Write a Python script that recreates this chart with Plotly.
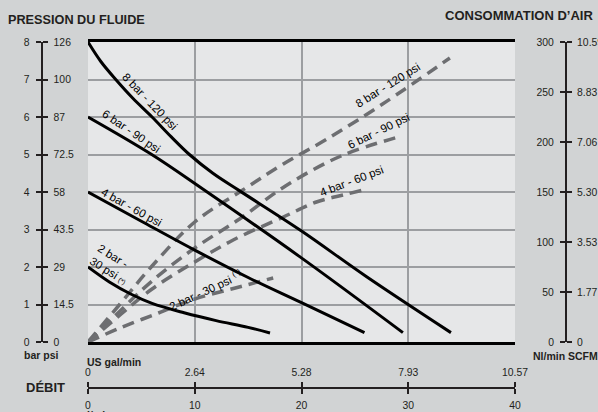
import plotly.graph_objects as go

# débit (l/min) / pression (bar) - courbes pleines
lpm_8 = [0, 1.2, 2.6, 4.2, 6.0, 7.8, 9.5, 11.7, 14.1, 19.9, 26.1, 34.0]
bar_8 = [8.0, 7.48, 7.0, 6.5, 6.0, 5.47, 5.0, 4.5, 4.05, 2.98, 1.74, 0.25]
lpm_6 = [0, 5.97, 10.65, 19.86, 29.5]
bar_6 = [6.0, 5.0, 4.1, 2.27, 0.25]
lpm_4 = [0, 5, 10, 15, 20, 25.9]
bar_4 = [4.0, 3.22, 2.45, 1.72, 1.05, 0.25]
lpm_2 = [0, 2, 4, 6, 9, 12, 15, 17.05]
bar_2 = [2.0, 1.6, 1.28, 1.03, 0.78, 0.57, 0.39, 0.24]

# consommation d'air (Nl/min) - courbes en tirets
air_lpm_8 = [0, 3, 6, 10, 14.5, 18.3, 22.4, 27.6, 33.9]
air_nl_8 = [0, 38, 76, 120, 152, 178, 203, 238, 284]
air_lpm_6 = [0, 3, 6, 10, 14.2, 18.5, 23.7, 29.4]
air_nl_6 = [0, 31, 61, 94, 123, 156, 186, 206]
air_lpm_4 = [0, 3, 6, 10, 13.6, 18.3, 21.4, 23.9, 25.8]
air_nl_4 = [0, 27, 53, 80, 102, 125, 140, 147, 152]
air_lpm_2 = [0, 3, 6.6, 10, 13.8, 17.35]
air_nl_2 = [0, 14, 29, 43, 54, 64]

# graduations
bar_ticks = [0, 1, 2, 3, 4, 5, 6, 7, 8]
psi_labels = ["0", "14.5", "29", "43.5", "58", "72.5", "87", "100", "126"]
nl_ticks = [0, 50, 100, 150, 200, 250, 300]
scfm_labels = ["0", "1.77", "3.53", "5.30", "7.06", "8.83", "10.59"]
lpm_ticks = [0, 10, 20, 30, 40]
gal_labels = ["0", "2.64", "5.28", "7.93", "10.57"]

FONT = "Liberation Sans, Arial, sans-serif"
INK = "#231f20"
DASH_COL = "#6d6e71"

fig = go.Figure()

# tirets (air) sur l'axe y (Nl/min)
for xs, ys in [(air_lpm_8, air_nl_8), (air_lpm_6, air_nl_6),
               (air_lpm_4, air_nl_4), (air_lpm_2, air_nl_2)]:
    fig.add_trace(go.Scatter(x=xs, y=ys, mode="lines", xaxis="x", yaxis="y",
                             line=dict(color=DASH_COL, width=3.5, dash="12px,7px", shape="spline"),
                             showlegend=False, hoverinfo="skip"))

# courbes pleines (pression) sur l'axe y2 (bar)
for xs, ys in [(lpm_8, bar_8), (lpm_6, bar_6), (lpm_4, bar_4), (lpm_2, bar_2)]:
    fig.add_trace(go.Scatter(x=xs, y=ys, mode="lines", xaxis="x", yaxis="y2",
                             line=dict(color="black", width=3, shape="spline", smoothing=1),
                             showlegend=False, hoverinfo="skip"))

# traces vides pour afficher les échelles extérieures
for xa, ya in [("x", "y3"), ("x", "y4"), ("x", "y5"), ("x", "y6"), ("x2", "y"), ("x3", "y")]:
    fig.add_trace(go.Scatter(x=[None], y=[None], xaxis=xa, yaxis=ya,
                             showlegend=False, hoverinfo="skip"))

W, H = 598, 412
xdom = [88 / W, 515 / W]
ydom = [(H - 342) / H, (H - 42) / H]
tickfont = dict(family=FONT, size=10.4, color=INK)

scale = dict(showline=True, linecolor=INK, linewidth=2, ticks="outside", ticklen=5,
             tickwidth=2, tickcolor=INK, showgrid=False, zeroline=False,
             tickfont=tickfont, fixedrange=True)

fig.update_layout(
    width=W, height=H, autosize=False,
    margin=dict(l=0, r=0, t=0, b=0, autoexpand=False),
    paper_bgcolor="#d1d3d4", plot_bgcolor="#e6e7e8",
    font=dict(family=FONT, color=INK),
    xaxis=dict(domain=xdom, range=[0, 40], tickvals=[10, 20, 30], showticklabels=False,
               ticks="", showgrid=True, gridcolor="#9c9ea1", gridwidth=2, zeroline=False,
               showline=True, mirror=True, linecolor="black", linewidth=2.5),
    yaxis=dict(domain=ydom, range=[0, 300], showgrid=False, showticklabels=False,
               ticks="", zeroline=False),
    yaxis2=dict(domain=ydom, range=[0, 8], overlaying="y", tickvals=[1, 2, 3, 4, 5, 6, 7],
                showticklabels=False, ticks="", showgrid=True, gridcolor="#9c9ea1",
                gridwidth=2, zeroline=False),
    yaxis3=dict(scale, domain=ydom, range=[0, 8], overlaying="y", anchor="free",
                position=41.5 / W, side="left", tickvals=bar_ticks,
                ticktext=[str(b) for b in bar_ticks], ticklabelstandoff=4),
    yaxis4=dict(scale, domain=ydom, range=[0, 8], overlaying="y", anchor="free",
                position=41.5 / W, side="right", tickvals=bar_ticks,
                ticktext=psi_labels, ticklabelstandoff=4),
    yaxis5=dict(scale, domain=ydom, range=[0, 300], overlaying="y", anchor="free",
                position=566 / W, side="left", tickvals=nl_ticks,
                ticktext=[str(v) for v in nl_ticks], ticklabelstandoff=4),
    yaxis6=dict(scale, domain=ydom, range=[0, 300], overlaying="y", anchor="free",
                position=566 / W, side="right", tickvals=nl_ticks,
                ticktext=scfm_labels, ticklabelstandoff=3),
    xaxis2=dict(scale, domain=xdom, range=[0, 40], overlaying="x", anchor="free",
                position=(H - 388) / H, side="bottom", tickvals=lpm_ticks,
                ticktext=[str(v) for v in lpm_ticks], ticklabelstandoff=3),
    xaxis3=dict(scale, domain=xdom, range=[0, 40], overlaying="x", anchor="free",
                position=(H - 388) / H, side="top", tickvals=lpm_ticks,
                ticktext=gal_labels, ticklabelstandoff=2),
)

lab = dict(family=FONT, size=11.5, color="black")
small = "<span style='font-size:7px'>(*)</span>"

# étiquettes des courbes pleines
curve_labels = [
    ("8 bar - 120 psi", 5.85, 6.4, 46),
    ("6 bar - 90 psi", 4.03, 5.63, 34),
    ("4 bar - 60 psi", 4.03, 3.6, 29),
]
for txt, x, y, ang in curve_labels:
    fig.add_annotation(text=txt, x=x, y=y, xref="x", yref="y2", textangle=ang,
                       showarrow=False, font=lab)
fig.add_annotation(text="2 bar -<br>30 psi " + small, x=2.3, y=2.08, xref="x", yref="y2",
                   textangle=32, showarrow=False, align="left", font=lab)

# étiquettes des tirets
air_labels = [
    ("8 bar - 120 psi", 28.1, 257, -32),
    ("6 bar - 90 psi", 27.2, 211, -26),
    ("4 bar - 60 psi", 24.7, 161, -21),
    ("2 bar - 30 psi <sup style='font-size:7px'>(*)</sup>", 11.0, 52, -25),
]
for txt, x, y, ang in air_labels:
    fig.add_annotation(text=txt, x=x, y=y, xref="x", yref="y", textangle=ang,
                       showarrow=False, font=lab)

# titres
def paper_text(txt, x, y, size, xanchor="left"):
    fig.add_annotation(text=txt, x=x / W, y=1 - y / H, xref="paper", yref="paper",
                       xanchor=xanchor, yanchor="middle", showarrow=False,
                       font=dict(family=FONT, size=size, color=INK))

paper_text("<b>PRESSION DU FLUIDE</b>", 6, 20, 12.7)
paper_text("<b>CONSOMMATION D’AIR</b>", 443, 16, 13)
paper_text("<b>DÉBIT</b>", 24, 387, 13)
paper_text("<b>bar psi</b>", 22, 355, 10.5)
paper_text("<b>US gal/min</b>", 85, 362, 10.5)
paper_text("<b>Nl/min SCFM</b>", 531, 356, 10.5)
paper_text("<b>l/min</b>", 85, 415, 10.5)

fig.write_html("out.html", config={"displayModeBar": False},
               post_script="document.body.style.margin='0';")
